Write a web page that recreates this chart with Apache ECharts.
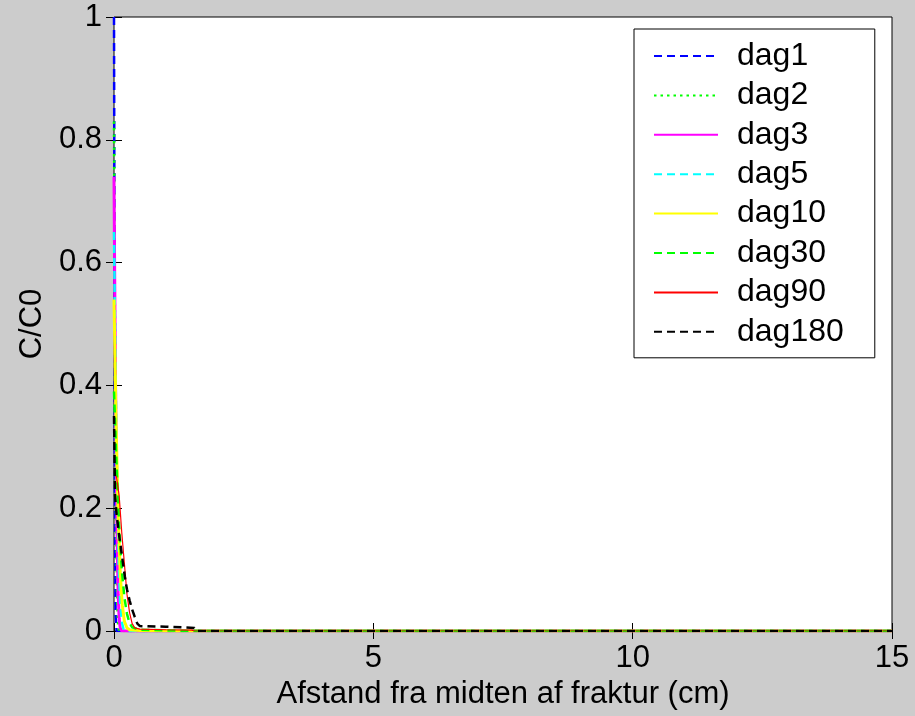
<!DOCTYPE html>
<html>
<head>
<meta charset="utf-8">
<script src="https://cdn.jsdelivr.net/npm/echarts@6/dist/echarts.min.js"></script>
<style>
  html, body { margin: 0; padding: 0; background: #cccccc; }
  #chart { width: 915px; height: 716px; }
</style>
</head>
<body>
<div id="chart"></div>
<script>
// Concentration profiles C/C0 versus distance from the fracture centre (cm)
const seriesNames = ['dag1', 'dag2', 'dag3', 'dag5', 'dag10', 'dag30', 'dag90', 'dag180'];

const xDag1 = [0, 0.01, 0.02, 0.03, 0.05, 15];
const yDag1 = [1, 0.6, 0.2, 0.03, 0, 0];

const xDag2 = [0, 0.02, 0.04, 0.06, 0.08, 0.1, 15];
const yDag2 = [0.83, 0.45, 0.18, 0.05, 0.01, 0, 0];

const xDag3 = [0, 0.02, 0.04, 0.06, 0.08, 0.1, 0.12, 0.15, 15];
const yDag3 = [0.74, 0.5, 0.3, 0.15, 0.06, 0.02, 0.005, 0, 0];

const xDag5 = [0, 0.03, 0.06, 0.09, 0.12, 0.15, 0.18, 0.25, 15];
const yDag5 = [0.65, 0.42, 0.24, 0.11, 0.045, 0.015, 0.004, 0, 0];

const xDag10 = [0, 0.04, 0.08, 0.12, 0.16, 0.2, 0.25, 0.3, 0.5, 0.8, 1.1, 15];
const yDag10 = [0.54, 0.34, 0.19, 0.095, 0.042, 0.016, 0.005, 0.002, 0.001, 0.0005, 0, 0];

const xDag30 = [0, 0.05, 0.1, 0.15, 0.2, 0.25, 0.3, 0.35, 0.5, 1.0, 1.5, 15];
const yDag30 = [0.39, 0.27, 0.17, 0.1, 0.055, 0.028, 0.013, 0.006, 0.002, 0.001, 0, 0];

const xDag90 = [0, 0.05, 0.1, 0.15, 0.2, 0.25, 0.3, 0.35, 0.4, 0.5, 1.0, 1.5, 1.55, 15];
const yDag90 = [0.26, 0.25, 0.22, 0.16, 0.11, 0.06, 0.03, 0.012, 0.005, 0.003, 0.002, 0.0015, 0, 0];

const xDag180 = [0, 0.02, 0.05, 0.1, 0.15, 0.21, 0.25, 0.3, 0.35, 0.4, 0.45, 0.5, 1.0, 1.55, 1.6, 15];
const yDag180 = [0.35, 0.22, 0.19, 0.155, 0.125, 0.088, 0.068, 0.05, 0.035, 0.023, 0.012, 0.008, 0.007, 0.005, 0, 0];

const xTicks = [0, 5, 10, 15];
const yTicks = [0, 0.2, 0.4, 0.6, 0.8, 1];

const xValues = [xDag1, xDag2, xDag3, xDag5, xDag10, xDag30, xDag90, xDag180];
const yValues = [yDag1, yDag2, yDag3, yDag5, yDag10, yDag30, yDag90, yDag180];

const lineStyles = [
  { color: '#0000ff', width: 2.5, type: [8, 5] },
  { color: '#00ff00', width: 2.5, type: [2.5, 4] },
  { color: '#ff00ff', width: 3, type: 'solid' },
  { color: '#00ffff', width: 2.5, type: [8, 5] },
  { color: '#ffff00', width: 3, type: 'solid' },
  { color: '#00ff00', width: 2.5, type: [8, 5] },
  { color: '#ff0000', width: 1.2, type: 'solid' },
  { color: '#000000', width: 2.5, type: [8, 5] }
];

const FONT = "'Liberation Sans', Arial, sans-serif";

const chart = echarts.init(document.getElementById('chart'), null, { renderer: 'canvas' });

const series = seriesNames.map((name, i) => ({
  name: name,
  type: 'line',
  symbol: 'none',
  showSymbol: false,
  animation: false,
  lineStyle: lineStyles[i],
  itemStyle: { color: lineStyles[i].color },
  data: xValues[i].map((x, j) => [x, yValues[i][j]])
}));

const tickCommon = { inside: true, length: 8, lineStyle: { color: '#000', width: 1 } };

chart.setOption({
  backgroundColor: '#cccccc',
  animation: false,
  textStyle: { fontFamily: FONT },
  grid: {
    left: 114, top: 17, width: 778, height: 614,
    show: true, backgroundColor: '#ffffff', borderColor: '#000000', borderWidth: 1
  },
  legend: {
    data: seriesNames,
    orient: 'vertical',
    left: 634, top: 29,
    backgroundColor: '#ffffff',
    borderColor: '#000000', borderWidth: 1,
    padding: [11, 31, 10, 19],
    itemWidth: 64, itemHeight: 14, itemGap: 7.4,
    selectedMode: false,
    itemStyle: { opacity: 0 },
    textStyle: { fontFamily: FONT, fontSize: 32, color: '#000', lineHeight: 30, padding: [0, 0, 0, 14] }
  },
  xAxis: [
    {
      type: 'value', min: 0, max: 15, interval: 5, position: 'bottom',
      name: 'Afstand fra midten af fraktur (cm)', nameLocation: 'middle', nameGap: 46,
      nameTextStyle: { fontFamily: FONT, fontSize: 31, color: '#000' },
      axisLine: { show: false },
      axisTick: tickCommon,
      splitLine: { show: false },
      axisLabel: { color: '#000', fontFamily: FONT, fontSize: 31, margin: 12 }
    },
    {
      type: 'value', min: 0, max: 15, interval: 5, position: 'top',
      axisLine: { show: false }, axisTick: tickCommon,
      axisLabel: { show: false }, splitLine: { show: false }
    }
  ],
  yAxis: [
    {
      type: 'value', min: 0, max: 1, interval: 0.2, position: 'left',
      name: 'C/C0', nameLocation: 'middle', nameGap: 65, nameRotate: 90,
      nameTextStyle: { fontFamily: FONT, fontSize: 31, color: '#000' },
      axisLine: { show: false }, axisTick: tickCommon, splitLine: { show: false },
      axisLabel: { color: '#000', fontFamily: FONT, fontSize: 31, margin: 12 }
    },
    {
      type: 'value', min: 0, max: 1, interval: 0.2, position: 'right',
      axisLine: { show: false }, axisTick: tickCommon,
      axisLabel: { show: false }, splitLine: { show: false }
    }
  ],
  series: series
});
</script>
</body>
</html>
